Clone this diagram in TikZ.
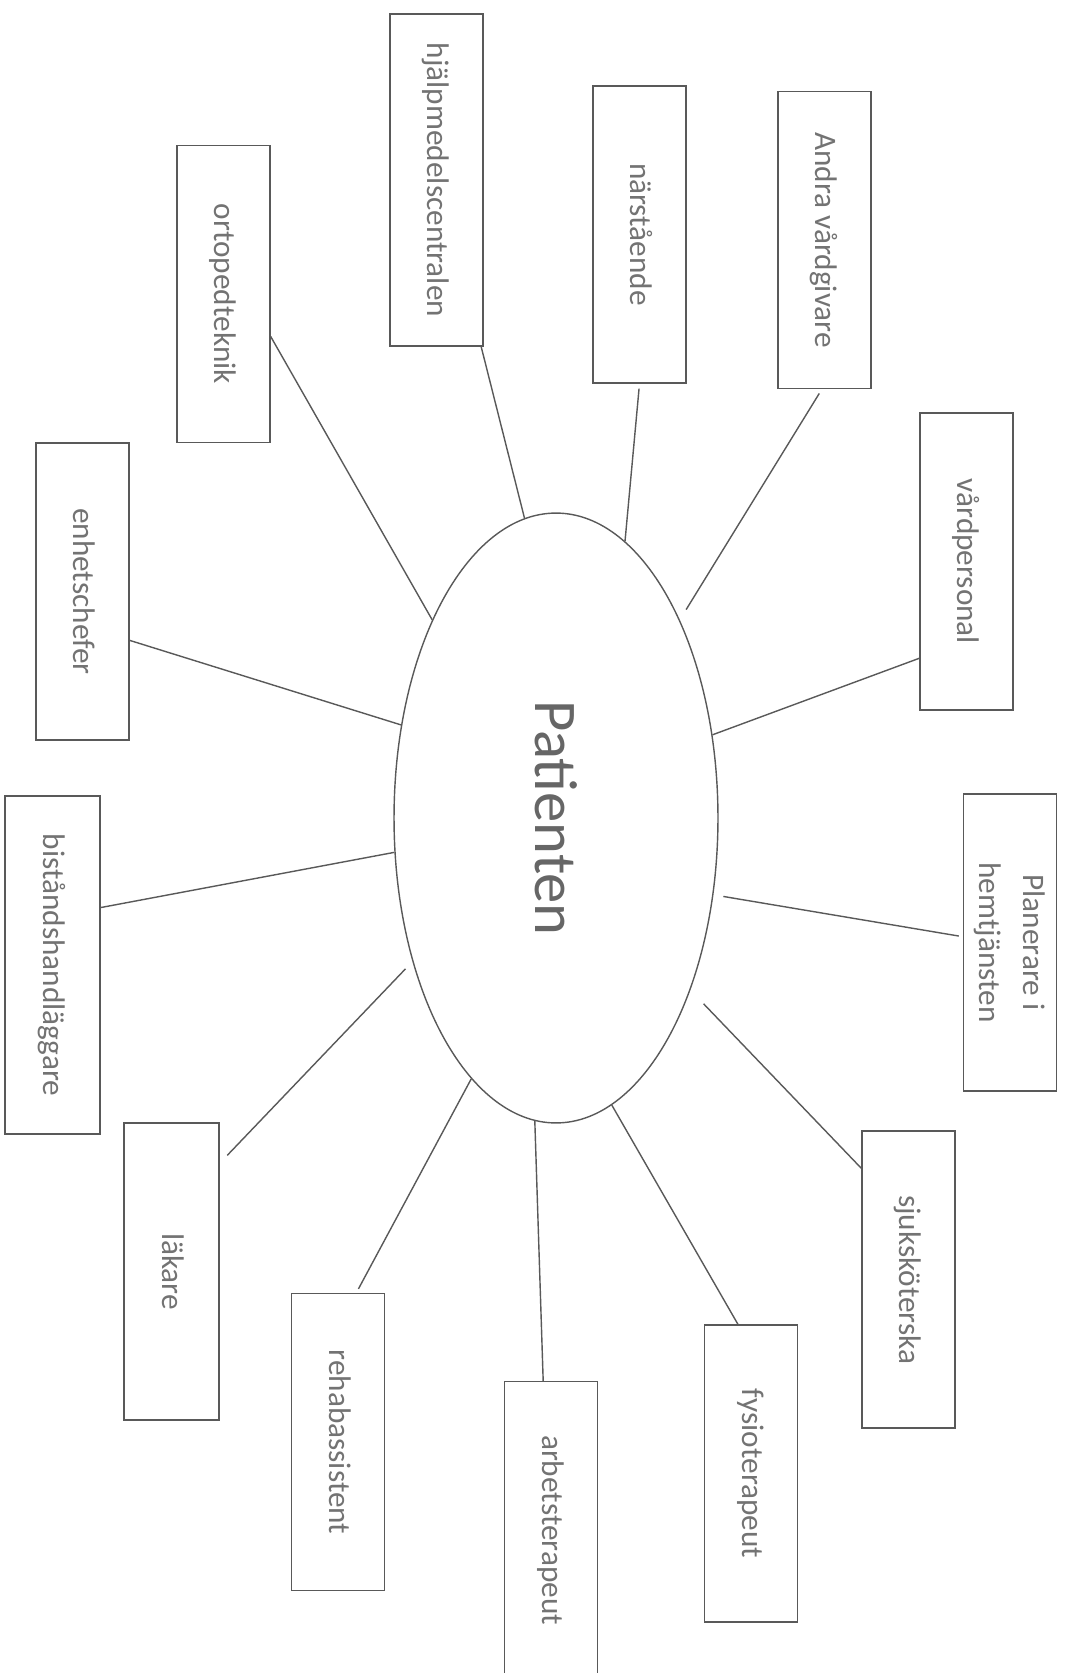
\documentclass[tikz,border=0pt]{standalone}
\usepackage{graphicx}
\usepackage{fontspec}
\setmainfont{Carlito}
\usetikzlibrary{shapes.geometric}

\newcommand{\vlabel}[1]{\rotatebox{-90}{\strut #1}}

\begin{document}
\begin{tikzpicture}[x=0.02cm, y=-0.02cm,
    box/.style={draw=black!65, line width=0.8pt, inner sep=0pt,
        minimum width=1.86cm, minimum height=5.94cm, text=black!55,
        font=\fontsize{17.8}{25}\selectfont},
    link/.style={draw=black!65, line width=0.8pt}]
    \useasboundingbox (0,0) rectangle (1066,1673);

    % centre
    \node[draw=black!65, line width=0.8pt, ellipse, inner sep=0pt,
        minimum width=6.48cm, minimum height=12.2cm, text=black!60,
        font=\fontsize{34.5}{40}\selectfont] (pat) at (556,818)
        {\rotatebox{-90}{Patienten}};

    % boxes
    \node[box, minimum height=6.64cm] (hjalp) at (436.5,180)
        {\vlabel{hjälpmedelscentralen}};
    \node[box] (ortoped) at (223.5,294) {\vlabel{ortopedteknik}};
    \node[box] (enhet) at (82.5,591.5) {\vlabel{enhetschefer}};
    \node[box, minimum width=1.9cm, minimum height=6.76cm] (bistand)
        at (52.5,965) {\vlabel{biståndshandläggare}};
    \node[box, minimum width=1.9cm] (lakare) at (171.5,1271.5)
        {\vlabel{läkare}};
    \node[box] (rehab) at (338,1442) {\vlabel{rehabassistent}};
    \node[box] (arbets) at (551,1530) {\vlabel{arbetsterapeut}};
    \node[box] (fysio) at (751,1473.5) {\vlabel{fysioterapeut}};
    \node[box] (sjuk) at (908.5,1279.5) {\vlabel{sjuksköterska}};
    \node[box] (planer) at (1010,942.5) {\rotatebox{-90}{%
        \begin{tabular}{@{}c@{}}Planerare i\\hemtjänsten\end{tabular}}};
    \node[box] (vardp) at (966.5,561.5) {\vlabel{vårdpersonal}};
    \node[box] (andra) at (824.5,240) {\vlabel{Andra vårdgivare}};
    \node[box] (narst) at (639.5,234.5) {\vlabel{närstående}};

    % links
    \draw[link] (hjalp.-75.6) -- (pat.96.3);
    \draw[link] (ortoped.-42.1) -- (pat.122.2);
    \draw[link] (enhet.-46.8) -- (pat.149.8);
    \draw[link] (bistand.50.2) -- (pat.192.5);
    \draw[link, shorten <=0.22cm, shorten >=0.2cm] (lakare.66.4)
        -- (pat.225.1);
    \draw[link, shorten <=0.09cm] (rehab.83.9) -- (pat.252.8);
    \draw[link] (arbets.93.1) -- (pat.266.6);
    \draw[link] (fysio.95.8) -- (pat.-79);
    \draw[link, shorten >=0.38cm] (sjuk.113.8) -- (pat.-52.6);
    \draw[link, shorten <=0.08cm, shorten >=0.2cm] (planer.173.2)
        -- (pat.-26.7);
    \draw[link] (vardp.244.4) -- (pat.28);
    \draw[link, shorten <=0.1cm, shorten >=0.24cm] (andra.-91.9)
        -- (pat.58.9);
    \draw[link, shorten <=0.1cm] (narst.south) -- (pat.76.9);
\end{tikzpicture}
\end{document}
